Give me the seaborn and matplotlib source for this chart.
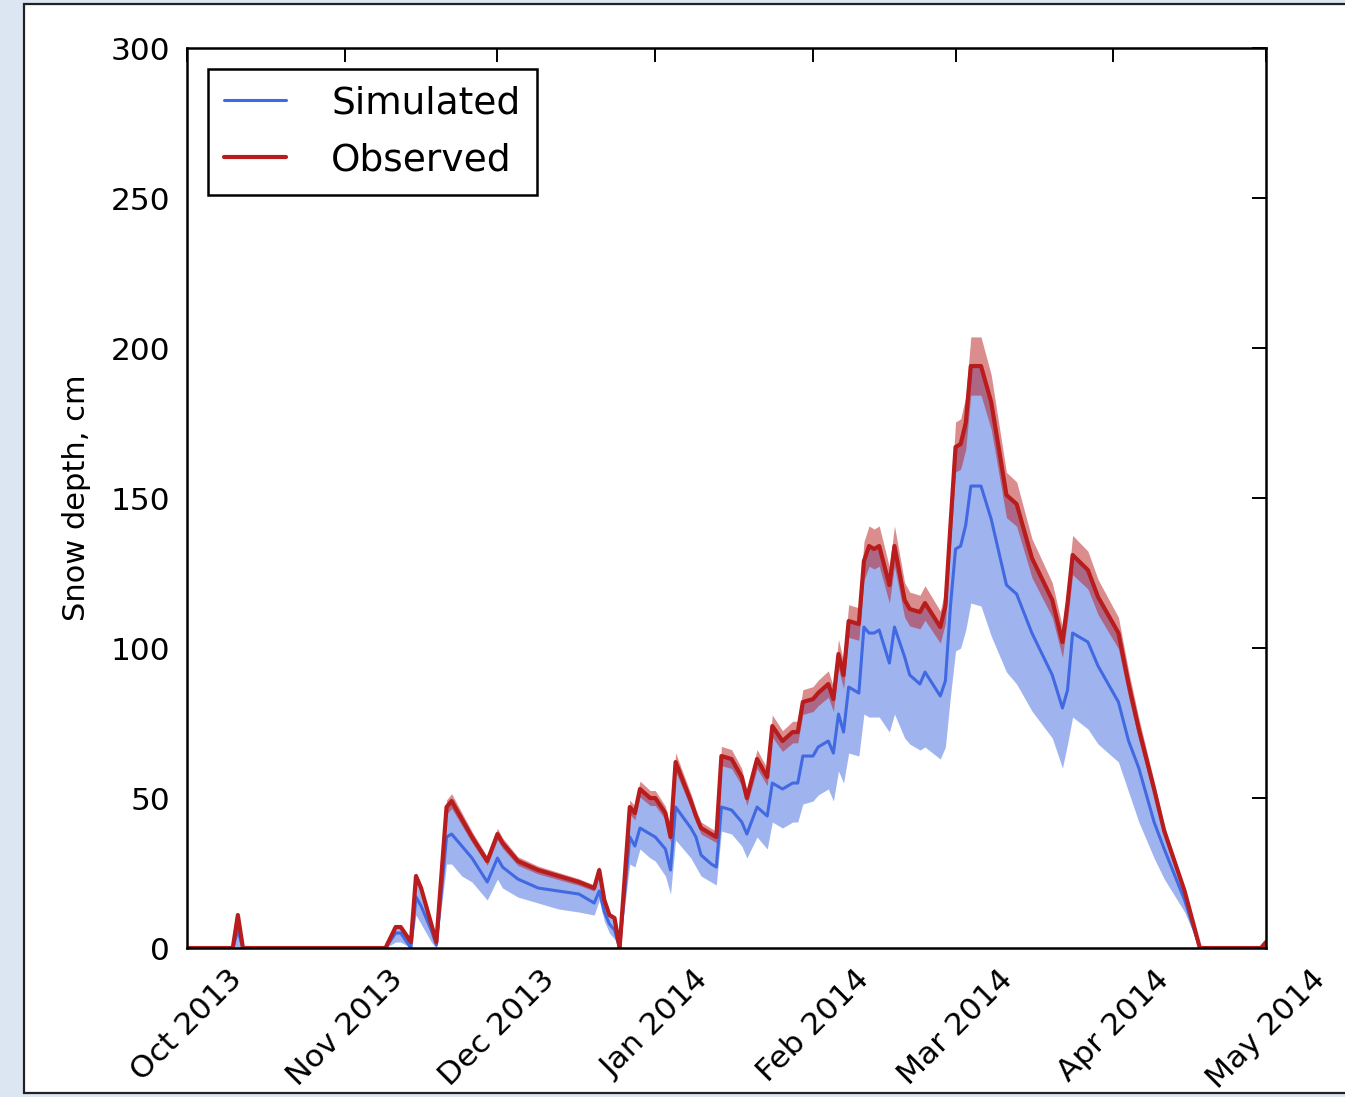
#!/usr/bin/env python3
"""Snow depth: simulated ensemble range vs observed, winter 2013/14."""
import pandas as pd
import matplotlib
matplotlib.use("Agg")
import matplotlib.pyplot as plt
import matplotlib.dates as mdates
from matplotlib.patches import Rectangle
import seaborn as sns

# values (cm)
dates = [
    "2013-10-01", "2013-10-10", "2013-10-11", "2013-10-12", "2013-11-09",
    "2013-11-11", "2013-11-12", "2013-11-14", "2013-11-15", "2013-11-16",
    "2013-11-18", "2013-11-19", "2013-11-21", "2013-11-22", "2013-11-24",
    "2013-11-26", "2013-11-29", "2013-12-01", "2013-12-02", "2013-12-05",
    "2013-12-09", "2013-12-13", "2013-12-17", "2013-12-20", "2013-12-21",
    "2013-12-22", "2013-12-23", "2013-12-24", "2013-12-25", "2013-12-27",
    "2013-12-28", "2013-12-29", "2013-12-31", "2014-01-01", "2014-01-03",
    "2014-01-04", "2014-01-05", "2014-01-08", "2014-01-09", "2014-01-10",
    "2014-01-12", "2014-01-13", "2014-01-14", "2014-01-16", "2014-01-18",
    "2014-01-19", "2014-01-21", "2014-01-23", "2014-01-24", "2014-01-26",
    "2014-01-28", "2014-01-29", "2014-01-30", "2014-02-01", "2014-02-02",
    "2014-02-04", "2014-02-05", "2014-02-06", "2014-02-07", "2014-02-08",
    "2014-02-10", "2014-02-11", "2014-02-12", "2014-02-13", "2014-02-14",
    "2014-02-16", "2014-02-17", "2014-02-19", "2014-02-20", "2014-02-22",
    "2014-02-23", "2014-02-26", "2014-02-27", "2014-02-28", "2014-03-01",
    "2014-03-02", "2014-03-03", "2014-03-04", "2014-03-06", "2014-03-08",
    "2014-03-11", "2014-03-13", "2014-03-16", "2014-03-20", "2014-03-22",
    "2014-03-23", "2014-03-24", "2014-03-27", "2014-03-29", "2014-04-02",
    "2014-04-04", "2014-04-06", "2014-04-09", "2014-04-11", "2014-04-15",
    "2014-04-18", "2014-04-30", "2014-05-01",
]
observed = [
    0, 0, 11, 0, 0,
    7, 7, 2, 24, 20,
    8, 2, 47, 49, 43,
    37, 29, 38, 35, 29,
    26, 24, 22, 20, 26,
    16, 11, 10, 0, 47,
    45, 53, 50, 50, 45,
    37, 62, 49, 44, 40,
    38, 37, 64, 63, 57,
    50, 63, 57, 74, 69,
    72, 72, 82, 83, 85,
    88, 83, 98, 91, 109,
    108, 129, 134, 133, 134,
    121, 134, 116, 113, 112,
    115, 107, 114, 141, 167,
    168, 175, 194, 194, 182,
    151, 148, 130, 116, 102,
    115, 131, 126, 117, 105,
    88, 73, 53, 39, 19,
    0, 0, 2,
]
simulated = [
    0, 0, 6, 0, 0,
    5, 5, 0, 17, 14,
    6, 1, 37, 38, 34,
    30, 22, 30, 27, 23,
    20, 19, 18, 15, 19,
    12, 8, 6, 0, 37,
    34, 40, 38, 37, 33,
    26, 47, 40, 37, 31,
    28, 27, 47, 46, 42,
    38, 47, 44, 55, 53,
    55, 55, 64, 64, 67,
    69, 65, 78, 72, 87,
    85, 107, 105, 105, 106,
    95, 107, 97, 91, 88,
    92, 84, 89, 114, 133,
    134, 141, 154, 154, 143,
    121, 118, 105, 91, 80,
    86, 105, 102, 94, 82,
    69, 60, 42, 33, 16,
    0, 0, 0,
]
sim_lower = [
    0, 0, 0, 0, 0,
    2, 2, 0, 11, 8,
    2, 0, 28, 28, 24,
    22, 16, 23, 20, 17,
    15, 13, 12, 11, 16,
    9, 5, 3, 0, 28,
    27, 33, 30, 29, 24,
    18, 36, 30, 27, 24,
    22, 21, 39, 38, 34,
    30, 37, 33, 42, 40,
    42, 42, 48, 49, 51,
    53, 49, 59, 55, 65,
    64, 78, 77, 77, 77,
    72, 78, 70, 68, 66,
    67, 63, 67, 84, 99,
    100, 106, 115, 114, 104,
    92, 88, 79, 70, 60,
    68, 77, 73, 68, 62,
    52, 42, 30, 23, 12,
    0, 0, 0,
]
# simulated upper bound follows the observed curve
sim_upper = observed
obs_err = 0.05  # relative observation uncertainty

month_ticks = pd.date_range("2013-10-01", "2014-05-01", freq="MS")
y_ticks = [0, 50, 100, 150, 200, 250, 300]

BLUE = "#4169e1"
RED = "#b81c1c"


def main():
    df = pd.DataFrame({
        "date": pd.to_datetime(dates),
        "observed": observed,
        "simulated": simulated,
        "low": sim_lower,
        "high": sim_upper,
    })
    df["obs_lo"] = df["observed"] * (1 - obs_err)
    df["obs_hi"] = df["observed"] * (1 + obs_err)

    sns.set_style("white")
    plt.rcParams["font.family"] = ["DejaVu Sans"]
    plt.rcParams["text.color"] = "black"
    plt.rcParams["axes.labelcolor"] = "black"

    fig = plt.figure(figsize=(13.45, 10.97), dpi=100)
    fig.patch.set_facecolor("#dce6f2")
    # white panel with a thin dark frame behind the axes
    fig.patches.append(Rectangle(
        (24 / 1345, 4 / 1097), 1.0, 1089 / 1097, transform=fig.transFigure,
        facecolor="white", edgecolor="#222222", linewidth=1.6, zorder=-10))

    ax = fig.add_axes([0.139, 0.1358, 0.8023, 0.8204])
    ax.set_zorder(1)
    ax.set_facecolor("white")

    ax.fill_between(df["date"], df["low"], df["high"], color=BLUE,
                    alpha=0.5, linewidth=0)
    sns.lineplot(data=df, x="date", y="simulated", color=BLUE, lw=2.2,
                 label="Simulated", ax=ax)
    ax.fill_between(df["date"], df["obs_lo"], df["obs_hi"], color=RED,
                    alpha=0.5, linewidth=0)
    sns.lineplot(data=df, x="date", y="observed", color=RED, lw=3.0,
                 label="Observed", ax=ax)

    ax.set_xlim(month_ticks[0], month_ticks[-1])
    ax.set_ylim(0, 300)
    ax.set_xticks(month_ticks)
    ax.xaxis.set_major_formatter(mdates.DateFormatter("%b %Y"))
    ax.set_yticks(y_ticks)
    ax.set_xlabel("")
    ax.set_ylabel("Snow depth, cm", fontsize=22, labelpad=14)

    for sp in ax.spines.values():
        sp.set_color("black")
        sp.set_linewidth(1.8)
    ax.tick_params(direction="in", top=True, right=True, length=10,
                   width=1.4, colors="black", labelsize=22.5)
    ax.tick_params(axis="x", pad=12)
    ax.tick_params(axis="y", pad=12)
    plt.setp(ax.get_xticklabels(), rotation=45, ha="center")

    leg = ax.legend(loc="upper left", fontsize=27, frameon=True,
                    fancybox=False, borderpad=0.45, handlelength=1.65,
                    handletextpad=1.2, labelspacing=0.55,
                    borderaxespad=0.55)
    leg.get_frame().set_edgecolor("black")
    leg.get_frame().set_linewidth(1.8)
    leg.get_frame().set_alpha(1)

    fig.savefig("out.png", dpi=100, facecolor=fig.get_facecolor())
    plt.close(fig)


if __name__ == "__main__":
    main()
